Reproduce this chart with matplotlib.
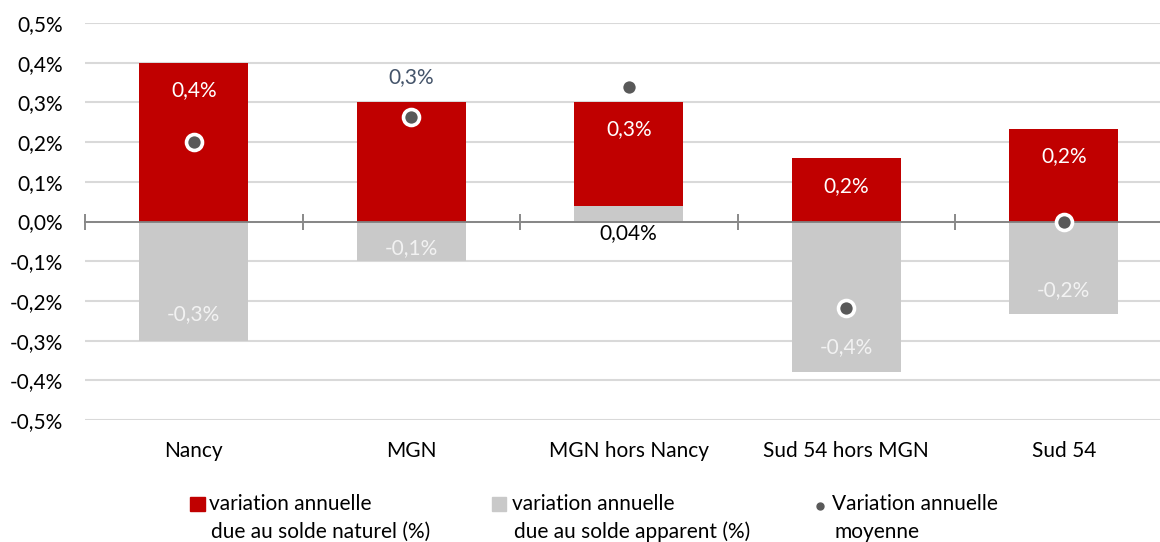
import matplotlib as mpl
mpl.use("Agg")
import matplotlib.pyplot as plt
from matplotlib.patches import Rectangle
from matplotlib.lines import Line2D
from matplotlib.ticker import FuncFormatter
import numpy as np

plt.rcParams["font.family"] = ["Lato", "DejaVu Sans"]

# données (en %)
categories = ["Nancy", "MGN", "MGN hors Nancy", "Sud 54 hors MGN", "Sud 54"]
solde_naturel = [0.40, 0.30, 0.262, 0.159, 0.234]
solde_apparent = [-0.30, -0.10, 0.038, -0.378, -0.234]
variation_moyenne = [0.20, 0.262, 0.338, -0.217, 0.0]
lab_naturel = ["0,4%", "0,3%", "0,3%", "0,2%", "0,2%"]
lab_apparent = ["-0,3%", "-0,1%", "0,04%", "-0,4%", "-0,2%"]

# mise en page des étiquettes (positions en unités de données)
pos_lab_nat = [0.332, 0.363, 0.232, 0.09, 0.164]
pos_lab_app = [-0.234, -0.068, -0.03, -0.317, -0.174]
col_lab_nat = ["white", "#44546A", "white", "white", "white"]
col_lab_app = ["#F2F2F2", "#F2F2F2", "black", "#F2F2F2", "#F2F2F2"]

RED = "#C00000"
GREY = "#C9C9C9"
DOT = "#595959"
FS = 15

fig = plt.figure(figsize=(11.6, 5.42), dpi=100)
ax = fig.add_axes([85 / 1160, 122 / 542, 1087.5 / 1160, 397 / 542])

x = np.arange(len(categories))
w = 0.5
app = np.array(solde_apparent)
nat = np.array(solde_naturel)
bottom_nat = np.where(app > 0, app, 0)

ax.bar(x, app, width=w, color=GREY, zorder=2)
ax.bar(x, nat, width=w, bottom=bottom_nat, color=RED, zorder=2)
ax.plot(x, variation_moyenne, "o", color=DOT, markersize=11.5,
        markeredgecolor="white", markeredgewidth=2.6, zorder=4, linestyle="none")

lab_shift = ax.transData + mpl.transforms.ScaledTranslation(0, -31 / 100, fig.dpi_scale_trans)
for i in range(len(categories)):
    ax.text(x[i], pos_lab_nat[i], lab_naturel[i], ha="center", va="center",
            fontsize=FS, color=col_lab_nat[i], zorder=5)
    ax.text(x[i], pos_lab_app[i], lab_apparent[i], ha="center", va="center",
            fontsize=FS, color=col_lab_app[i], zorder=5)
    ax.text(x[i], -0.5, categories[i], ha="center", va="center",
            fontsize=FS, color="black", transform=lab_shift)

ax.set_xlim(-0.5, len(categories) - 0.5)
ax.set_ylim(-0.5, 0.5)
ax.set_yticks(np.arange(-0.5, 0.51, 0.1))
ax.yaxis.set_major_formatter(FuncFormatter(lambda v, p: ("%.1f%%" % v).replace(".", ",").replace("-0,0", "0,0")))
ax.tick_params(axis="y", length=0, pad=16, labelsize=FS, labelcolor="black")
ax.grid(axis="y", color="#D9D9D9", linewidth=1.5, zorder=0)
ax.set_axisbelow(True)

for s in ["top", "right", "left"]:
    ax.spines[s].set_visible(False)
ax.spines["bottom"].set_position(("data", 0))
ax.spines["bottom"].set_color("#808080")
ax.spines["bottom"].set_linewidth(1.3)
ax.spines["bottom"].set_zorder(3)
ax.set_xticks(np.arange(-0.5, len(categories), 1.0))
ax.tick_params(axis="x", direction="inout", length=12, width=1.3, color="#808080",
               labelbottom=False)

# légende
def fx(px):
    return px / 1160

def fy(py):
    return 1 - py / 542

fig.patches.append(Rectangle((fx(190), fy(511)), 15 / 1160, 14 / 542, color=RED,
                             transform=fig.transFigure, figure=fig))
fig.patches.append(Rectangle((fx(492), fy(511)), 14 / 1160, 14 / 542, color=GREY,
                             transform=fig.transFigure, figure=fig))
fig.add_artist(Line2D([fx(820)], [fy(506)], marker="o", color=DOT, markersize=5,
                      linestyle="none", transform=fig.transFigure))

leg_labels = ["variation annuelle", "variation annuelle", "Variation annuelle"]
leg_labels2 = ["due au solde naturel (%)", "due au solde apparent (%)", "moyenne"]
for px, t1, t2 in zip([209, 512, 832], leg_labels, leg_labels2):
    fig.text(fx(px), fy(504), t1, ha="left", va="center", fontsize=FS, color="black")
    fig.text(fx(px + 2), fy(532), t2, ha="left", va="center", fontsize=FS, color="black")

fig.savefig("out.png", dpi=100)
